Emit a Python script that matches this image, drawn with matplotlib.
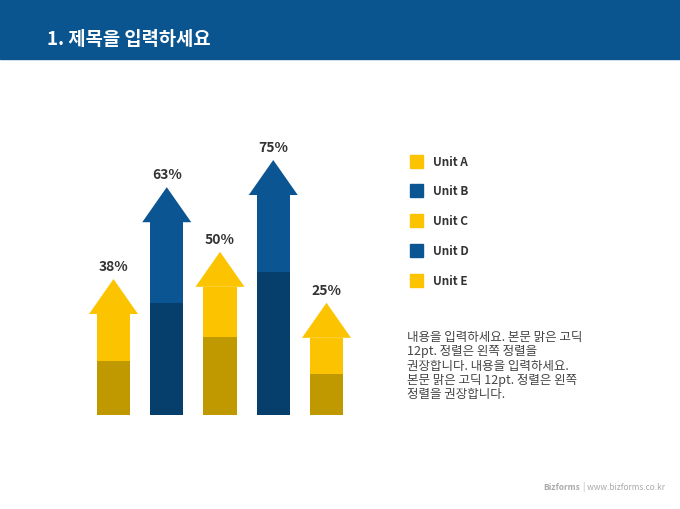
import matplotlib
matplotlib.use("Agg")
import matplotlib.pyplot as plt
from matplotlib.patches import Rectangle

plt.rcParams['font.family'] = ['Noto Sans CJK KR', 'DejaVu Sans']

# data
units = ["Unit A", "Unit B", "Unit C", "Unit D", "Unit E"]
values = [38, 63, 50, 75, 25]          # printed labels
arrow_level = [40, 67, 48, 75, 33]     # drawn arrow height (same 0-100 scale)
dark_level = [16, 33, 23, 42, 12]      # top of the darker lower part
kinds = ["yellow", "blue", "yellow", "blue", "yellow"]

title = "1. 제목을 입력하세요"
body = ("내용을 입력하세요. 본문 맑은 고딕\n12pt. 정렬은 왼쪽 정렬을\n"
        "권장합니다. 내용을 입력하세요.\n본문 맑은 고딕 12pt. 정렬은 왼쪽\n정렬을 권장합니다.")

top_col = {"yellow": "#fcc400", "blue": "#0b5592"}
low_col = {"yellow": "#c09800", "blue": "#063f6c"}
header_col = "#0a5590"

W, H = 680, 510
fig = plt.figure(figsize=(6.8, 5.1), dpi=100)

# header bar
fig.patches.append(Rectangle((0, 1 - 60 / H), 1, 60 / H, transform=fig.transFigure,
                             color=header_col, zorder=0))
fig.text(47 / W, 1 - 40 / H, title, color="white", fontsize=13.5, fontweight="bold",
         va="center", ha="left")

# arrow chart
head_h = 10.3
ax = fig.add_axes([60.25 / W, (H - 416) / H, 319.5 / W, 340 / H])
ax.set_xlim(-1, 5)
ax.set_ylim(0, 100)
ax.axis("off")

for i, (v, lvl, dk, k) in enumerate(zip(values, arrow_level, dark_level, kinds)):
    shaft_top = lvl - head_h
    ax.bar(i, shaft_top, width=0.62, color=top_col[k], linewidth=0)
    ax.bar(i, dk, width=0.62, color=low_col[k], linewidth=0)
    ax.fill([i - 0.46, i + 0.46, i], [shaft_top, shaft_top, lvl], color=top_col[k], linewidth=0)
    ax.annotate(f"{v}%", (i, lvl), xytext=(0, 4.5), textcoords="offset points",
                ha="center", va="bottom", fontsize=10, color="#333333", fontweight="bold")

# legend
for j, (u, k) in enumerate(zip(units, kinds)):
    yc = 162 + j * 29.8
    fig.patches.append(Rectangle((410 / W, 1 - (yc + 6.5) / H), 13 / W, 13 / H,
                                 transform=fig.transFigure, color=top_col[k]))
    fig.text(433 / W, 1 - yc / H, u, fontsize=8.5, fontweight="bold", color="#333333",
             va="center", ha="left")

# body text
fig.text(407 / W, 1 - 331 / H, body, fontsize=9, color="#444444", va="top", ha="left",
         linespacing=1.13)

# footer
fig.text(580 / W, 1 - 487 / H, "Bizforms", fontsize=6, fontweight="bold", color="#aaaaaa",
         va="center", ha="right")
fig.text(583 / W, 1 - 487 / H, "| www.bizforms.co.kr", fontsize=6, color="#aaaaaa",
         va="center", ha="left")

fig.savefig("out.png", dpi=100)
